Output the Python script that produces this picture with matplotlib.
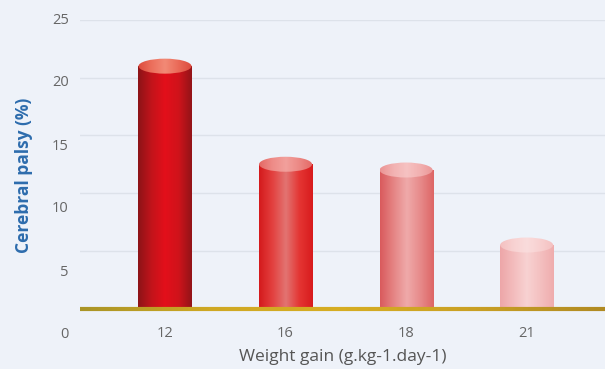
import numpy as np
import matplotlib.pyplot as plt
from matplotlib.colors import LinearSegmentedColormap
from matplotlib.patches import Ellipse
from matplotlib.collections import LineCollection

weight_gain = ['12', '16', '18', '21']
palsy_pct = [21.0, 12.5, 12.0, 5.5]
y_ticks = [0, 5, 10, 15, 20, 25]

# horizontal shading of each cylinder, left edge -> right edge
body_colors = [
    ['#8c1317', '#c2141b', '#e30f1a', '#d0131b', '#921418'],
    ['#d41a1c', '#e3403f', '#e27472', '#e43533', '#d81b1d'],
    ['#d95a5c', '#e58484', '#efaaaa', '#e78a8a', '#dd6565'],
    ['#eda6a8', '#f3bcbd', '#f8d2d2', '#f4c0c0', '#efacad'],
]
top_colors = [
    ['#dc4a3c', '#ec6f5c', '#f28a76', '#ea6a58', '#dc4a3c'],
    ['#e46864', '#ee8c88', '#f2a09c', '#ec8884', '#e46864'],
    ['#eb9494', '#f2b2b2', '#f6c2c2', '#f2b0b0', '#eb9494'],
    ['#f4c0c0', '#f8d2d2', '#fadcdc', '#f8d0d0', '#f4c0c0'],
]

bg = '#eef2f9'
bar_w = 0.44
cap_h = 1.3

plt.rcParams['font.family'] = ['Open Sans', 'DejaVu Sans']

fig = plt.figure(figsize=(6.05, 3.69), dpi=100)
fig.patch.set_facecolor(bg)

ax = fig.add_axes([80 / 605, 1 - 308.5 / 369, 525 / 605, 288.5 / 369])
ax.set_facecolor(bg)
for s in ax.spines.values():
    s.set_visible(False)

grad = np.linspace(0, 1, 256).reshape(1, -1)
for i, v in enumerate(palsy_pct):
    body = LinearSegmentedColormap.from_list('body%d' % i, body_colors[i])
    ax.imshow(grad, cmap=body, aspect='auto', interpolation='bilinear',
              extent=(i - bar_w / 2, i + bar_w / 2, 0, v), zorder=3)
    top = Ellipse((i, v), bar_w, cap_h, transform=ax.transData)
    cap = LinearSegmentedColormap.from_list('top%d' % i, top_colors[i])
    im = ax.imshow(grad, cmap=cap, aspect='auto', interpolation='bilinear',
                   extent=(i - bar_w / 2, i + bar_w / 2, v - cap_h / 2, v + cap_h / 2),
                   zorder=4)
    im.set_clip_path(top)

ax.set_xlim(-0.705, 3.65)
ax.set_ylim(0, 25)

# gold base line, a little darker towards the ends
xs = np.linspace(-0.705, 3.65, 200)
segs = np.stack([np.column_stack([xs[:-1], np.zeros(199)]),
                 np.column_stack([xs[1:], np.zeros(199)])], axis=1)
gold = LinearSegmentedColormap.from_list('gold', ['#a99426', '#cfa823', '#d6ad22', '#c9a024', '#b08a22'])
lc = LineCollection(segs, cmap=gold, linewidths=3, clip_on=False, zorder=5)
lc.set_array(np.linspace(0, 1, 199))
ax.add_collection(lc)

ax.set_yticks(y_ticks)
ax.yaxis.grid(True, color='#dde2ea', linewidth=1)
ax.set_axisbelow(True)
ax.tick_params(axis='y', left=False, labelleft=False)
ax.set_xticks(range(len(weight_gain)))
ax.set_xticklabels(weight_gain)
ax.tick_params(axis='x', bottom=False, pad=9, labelcolor='#666666', labelsize=10.5)
ax.set_xlabel('Weight gain (g.kg-1.day-1)', color='#555555', fontsize=12.5, labelpad=6)

# value labels sit on their own, slightly taller scale
lab = fig.add_axes([80 / 605, 1 - 333 / 369, 0.001, 315 / 369])
lab.patch.set_visible(False)
for s in lab.spines.values():
    s.set_visible(False)
lab.set_ylim(0, 25)
lab.set_yticks(y_ticks)
lab.set_xticks([])
lab.tick_params(axis='y', length=0, pad=8, labelcolor='#666666', labelsize=10.5)
lab.set_ylabel('Cerebral palsy (%)', color='#2d6cad', fontweight='bold',
               fontsize=12.5, labelpad=14)

fig.savefig('out.png', dpi=100, facecolor=bg)
